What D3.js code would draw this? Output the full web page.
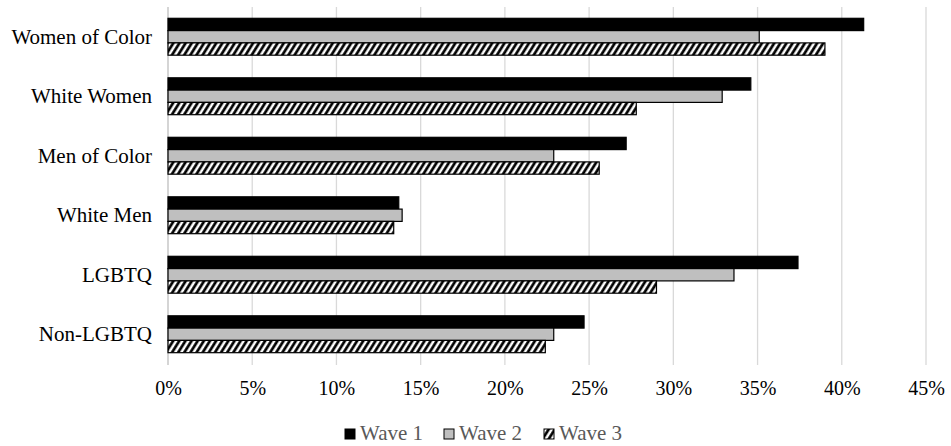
<!DOCTYPE html>
<html><head><meta charset="utf-8">
<script src="https://cdn.jsdelivr.net/npm/d3@7"></script>
<style>body{margin:0;background:#fff}svg{display:block}</style>
</head><body>
<svg id="c" width="951" height="446"></svg>
<script>
const categories = ["Women of Color","White Women","Men of Color","White Men","LGBTQ","Non-LGBTQ"];
const seriesNames = ["Wave 1","Wave 2","Wave 3"];
const wave1 = [0.413,0.346,0.272,0.137,0.374,0.247];
const wave2 = [0.351,0.329,0.229,0.139,0.336,0.229];
const wave3 = [0.390,0.278,0.256,0.134,0.290,0.224];
const tickValues = [0,0.05,0.10,0.15,0.20,0.25,0.30,0.35,0.40,0.45];

const seriesValues = [wave1, wave2, wave3];
const svg = d3.select("#c");
const font = "'Liberation Serif','Times New Roman',serif";

const defs = svg.append("defs");
const pat = defs.append("pattern").attr("id","hatch").attr("patternUnits","userSpaceOnUse")
  .attr("width",5.2).attr("height",6).attr("patternTransform","rotate(32)");
pat.append("rect").attr("width",5.2).attr("height",6).attr("fill","#000");
pat.append("rect").attr("x",0.3).attr("width",2.5).attr("height",6).attr("fill","#fff");

const fills = ["#000000","#bfbfbf","url(#hatch)"];

const x = d3.scaleLinear().domain([0,0.45]).range([168,926]);
const y = d3.scaleBand().domain(categories).range([7,364]).paddingInner(0.38).paddingOuter(0.19);
const ys = d3.scaleBand().domain(seriesNames).range([0,y.bandwidth()]);

// gridlines
svg.append("g").selectAll("line").data(tickValues).join("line")
  .attr("x1",d=>x(d)).attr("x2",d=>x(d)).attr("y1",7).attr("y2",365)
  .attr("stroke",d=>d===0?"#bfbfbf":"#d9d9d9").attr("stroke-width",1.3);

// bars
const groups = svg.append("g").selectAll("g").data(categories).join("g")
  .attr("transform",c=>`translate(0,${y(c)})`);
groups.selectAll("rect").data((c,i)=>seriesNames.map((s,j)=>({s,j,v:seriesValues[j][i]})))
  .join("rect")
  .attr("x",x(0)).attr("y",d=>ys(d.s)).attr("width",d=>x(d.v)-x(0)).attr("height",ys.bandwidth())
  .attr("fill",d=>fills[d.j]).attr("stroke","#000").attr("stroke-width",1.2);

// category labels
svg.append("g").selectAll("text").data(categories).join("text")
  .attr("x",152).attr("y",c=>y(c)+y.bandwidth()/2+7).attr("text-anchor","end")
  .attr("font-family",font).attr("font-size",21).attr("fill","#000").text(d=>d);

// x axis
const ax = svg.append("g").attr("transform","translate(0,378)")
  .call(d3.axisBottom(x).tickValues(tickValues).tickFormat(d3.format(".0%")).tickSize(0));
ax.select(".domain").remove();
ax.selectAll("text").attr("font-family",font).attr("font-size",20).attr("fill","#000").attr("dy","0.71em");

// legend
const legX = [345,444,544];
const leg = svg.append("g").selectAll("g").data(seriesNames).join("g")
  .attr("transform",(d,i)=>`translate(${legX[i]},429)`);
leg.append("rect").attr("width",10).attr("height",10).attr("fill",(d,i)=>fills[i]).attr("stroke","#000").attr("stroke-width",1);
leg.append("text").attr("x",15).attr("y",11).attr("font-family",font).attr("font-size",21)
  .attr("fill","#595959").text(d=>d);
</script>
</body></html>
